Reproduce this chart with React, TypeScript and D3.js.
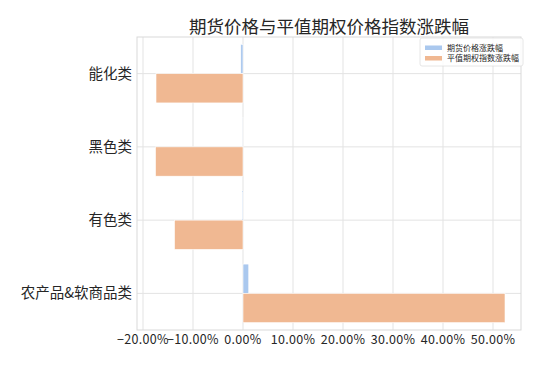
import React from "react";
import { scaleLinear } from "d3";

const categories: string[] = ["能化类", "黑色类", "有色类", "农产品&软商品类"];
const futuresChange: number[] = [-0.45, -0.03, -0.15, 1.15];
const optionIndexChange: number[] = [-17.4, -17.5, -13.7, 52.4];
const xTicks: number[] = [-20, -10, 0, 10, 20, 30, 40, 50];
const seriesNames: string[] = ["期货价格涨跌幅", "平值期权指数涨跌幅"];

const WIDTH = 550;
const HEIGHT = 367;
const LEFT = 137;
const RIGHT = 521;
const TOP = 37;
const BOTTOM = 330;
const BLUE = "#aac8ee";
const ORANGE = "#f0b892";
const FONT = "'Noto Sans CJK SC', 'DejaVu Sans', sans-serif";

const fmt = (v: number) => (v < 0 ? "\u2212" : "") + Math.abs(v).toFixed(2) + "%";

const App: React.FC = () => {
  const x = scaleLinear().domain([-21.2, 55.6]).range([LEFT, RIGHT]);
  const y = scaleLinear().domain([-0.5, 3.5]).range([TOP, BOTTOM]);
  const barH = 0.4;

  return (
    <svg
      width={WIDTH}
      height={HEIGHT}
      style={{ position: "absolute", left: 0, top: 0, background: "white" }}
      fontFamily={FONT}
    >
      {/* grid */}
      {xTicks.map((t) => (
        <line key={"gx" + t} x1={x(t)} x2={x(t)} y1={TOP} y2={BOTTOM} stroke="#e3e3e3" strokeWidth={1} />
      ))}
      {categories.map((c, i) => (
        <line key={"gy" + c} x1={LEFT} x2={RIGHT} y1={y(i)} y2={y(i)} stroke="#e3e3e3" strokeWidth={1} />
      ))}

      {/* bars */}
      {futuresChange.map((v, i) => (
        <rect
          key={"f" + i}
          x={Math.min(x(0), x(v))}
          width={Math.abs(x(v) - x(0))}
          y={y(i - barH)}
          height={y(i) - y(i - barH)}
          fill={BLUE}
          stroke="white"
          strokeWidth={0.6}
        />
      ))}
      {optionIndexChange.map((v, i) => (
        <rect
          key={"o" + i}
          x={Math.min(x(0), x(v))}
          width={Math.abs(x(v) - x(0))}
          y={y(i)}
          height={y(i + barH) - y(i)}
          fill={ORANGE}
          stroke="white"
          strokeWidth={0.6}
        />
      ))}

      {/* frame */}
      <rect x={LEFT} y={TOP} width={RIGHT - LEFT} height={BOTTOM - TOP} fill="none" stroke="#d9d9d9" strokeWidth={1} />

      {/* x ticks */}
      {xTicks.map((t) => (
        <text key={"tx" + t} x={x(t)} y={BOTTOM + 14} textAnchor="middle" fontSize={12.5} letterSpacing={0.3} fill="#262626">
          {fmt(t)}
        </text>
      ))}

      {/* y ticks */}
      {categories.map((c, i) => (
        <text key={"ty" + c} x={LEFT - 5} y={y(i)} dy="0.35em" textAnchor="end" fontSize={14.5} fill="#262626">
          {c}
        </text>
      ))}

      {/* title */}
      <text x={(LEFT + RIGHT) / 2} y={33} textAnchor="middle" fontSize={17.5} fill="#262626">
        期货价格与平值期权价格指数涨跌幅
      </text>

      {/* legend */}
      <g>
        <rect x={420} y={38} width={103} height={28} rx={2} fill="white" fillOpacity={0.85} stroke="#e0e0e0" strokeWidth={0.8} />
        {seriesNames.map((n, i) => (
          <g key={n} transform={`translate(425, ${45.5 + i * 10.5})`}>
            <rect x={0} y={0} width={17} height={4.5} fill={i === 0 ? BLUE : ORANGE} />
            <text x={22} y={2.5} dy="0.35em" fontSize={8} fill="#262626">
              {n}
            </text>
          </g>
        ))}
      </g>
    </svg>
  );
};

export default App;
